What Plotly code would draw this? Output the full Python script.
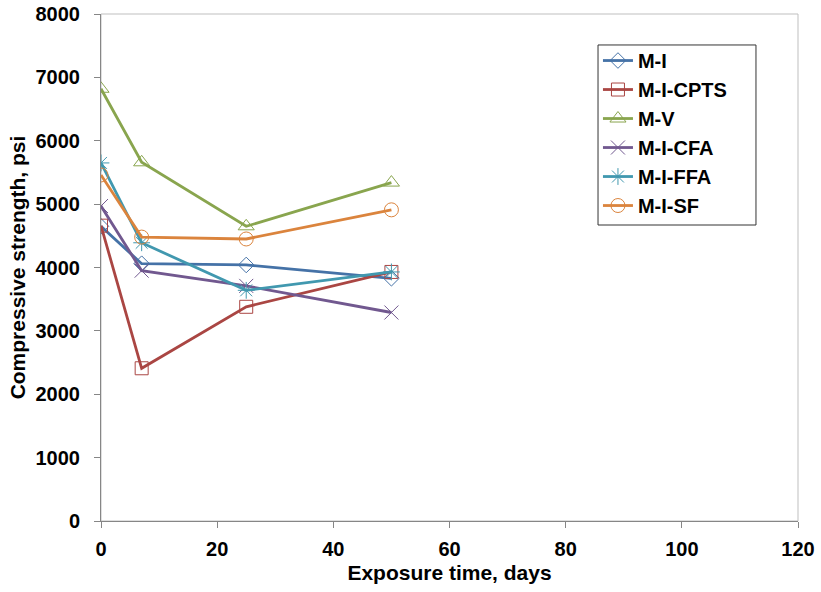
import plotly.graph_objects as go

# exposure times (days)
days = [0, 7, 25, 50]

# compressive strength, psi
m_i = [4650, 4060, 4040, 3830]
m_i_cpts = [4660, 2410, 3380, 3930]
m_v = [6820, 5660, 4650, 5340]
m_i_cfa = [4970, 3950, 3710, 3290]
m_i_ffa = [5650, 4390, 3640, 3930]
m_i_sf = [5460, 4480, 4450, 4910]

names = ["M-I", "M-I-CPTS", "M-V", "M-I-CFA", "M-I-FFA", "M-I-SF"]
series = [m_i, m_i_cpts, m_v, m_i_cfa, m_i_ffa, m_i_sf]
colors = ["#4572A7", "#AA4643", "#89A54E", "#71588F", "#4198AF", "#DB843D"]
symbols = ["diamond-open", "square-open", "triangle-up-open",
           "x-thin-open", "asterisk-open", "circle-open"]
sizes = [12, 13, 14, 14, 14, 14]

font = "Liberation Sans, Arial, sans-serif"

fig = go.Figure()
for name, vals, c, s, sz in zip(names, series, colors, symbols, sizes):
    fig.add_trace(go.Scatter(x=days, y=vals, name=name, mode="lines+markers",
                             line=dict(color=c, width=2.8),
                             marker=dict(symbol=s, size=sz, color=c,
                                         line=dict(color=c, width=1))))

# light frame around the plot area
fig.add_shape(type="rect", xref="paper", yref="paper", x0=0, y0=0, x1=1, y1=1,
              line=dict(color="#BFBFBF", width=1), layer="below")
# legend box (drawn as a shape so it can be a bit wider than the text)
fig.add_shape(type="rect", xref="paper", yref="paper",
              x0=0.7131, x1=0.9397, y0=0.5838, y1=0.9389,
              line=dict(color="#333333", width=1), fillcolor="white", layer="below")

axis_common = dict(showgrid=False, zeroline=False, automargin=False,
                   showline=True, linecolor="#868686", linewidth=1,
                   ticks="outside", ticklen=6, tickcolor="#868686",
                   ticklabeloverflow="allow",
                   tickfont=dict(size=20, weight="bold"))

fig.update_layout(
    width=821, height=592,
    margin=dict(l=101, r=23, t=14, b=71),
    plot_bgcolor="white", paper_bgcolor="white",
    font=dict(family=font, color="black"),
    showlegend=True,
    legend=dict(x=0.713, y=0.9467, xanchor="left", yanchor="top",
                borderwidth=0, bgcolor="rgba(0,0,0,0)",
                font=dict(size=20, family=font, weight="bold"),
                itemwidth=30, tracegroupgap=0),
    xaxis=dict(range=[0, 120], dtick=20, ticklabelstandoff=4,
               title=dict(text="<b>Exposure time, days</b>", font=dict(size=21),
                          standoff=6),
               **axis_common),
    yaxis=dict(range=[0, 8000], dtick=1000, ticklabelstandoff=10,
               title=dict(text="<b>Compressive strength, psi</b>", font=dict(size=21),
                          standoff=4),
               **axis_common),
)

# drop the browser's default 8px page margin so the figure fills the window
fig.write_html("out.html", config={"displayModeBar": False},
               post_script="document.body.style.margin='0';")
